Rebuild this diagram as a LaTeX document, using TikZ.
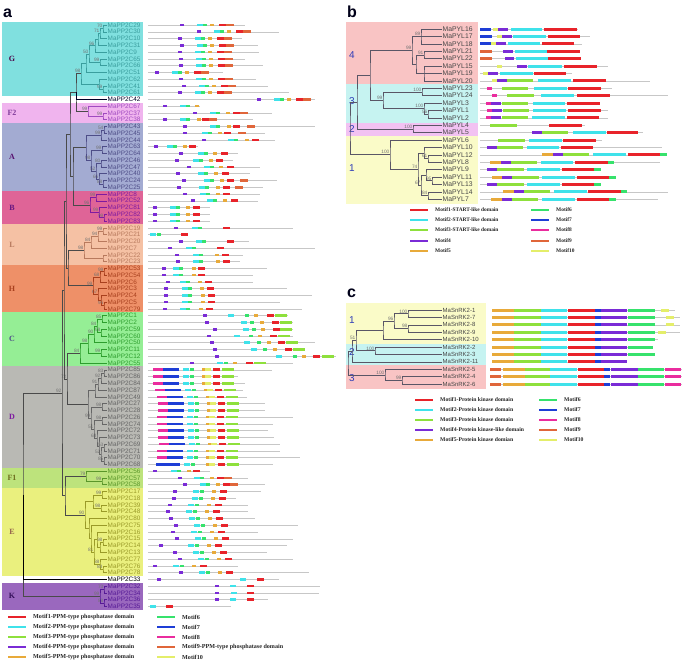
\documentclass[tikz,border=0pt]{standalone}
\usepackage{fontspec}
\setmainfont{Liberation Sans}
\newfontfamily\legfont{Liberation Serif}
\usetikzlibrary{calc}

% motif colours
\definecolor{m1}{HTML}{E8232A}
\definecolor{m2}{HTML}{3FE2EA}
\definecolor{m3}{HTML}{8EE03C}
\definecolor{m4}{HTML}{7A2BD6}
\definecolor{m5}{HTML}{E8AA3A}
\definecolor{m6}{HTML}{36E26C}
\definecolor{m7}{HTML}{1E3ED6}
\definecolor{m8}{HTML}{EA2C9E}
\definecolor{m9}{HTML}{E0663A}
\definecolor{m10}{HTML}{E4EE6A}
% clade bands
\definecolor{bG}{HTML}{80E0DF}
\definecolor{bFt}{HTML}{F0B4EE}
\definecolor{bA}{HTML}{A3ABD2}
\definecolor{bB}{HTML}{DF6497}
\definecolor{bL}{HTML}{F5C1A4}
\definecolor{bH}{HTML}{EE9068}
\definecolor{bC}{HTML}{95EE95}
\definecolor{bD}{HTML}{B9B9B4}
\definecolor{bFo}{HTML}{BDE37C}
\definecolor{bE}{HTML}{EAF07E}
\definecolor{bK}{HTML}{9A68BE}
\definecolor{bpink}{HTML}{F9C4C4}
\definecolor{bcyan}{HTML}{C6F3F1}
\definecolor{blilac}{HTML}{F2C2F2}
\definecolor{byellow}{HTML}{FAFBC8}
% clade text / branch colours
\definecolor{cG}{HTML}{3A9E9E}
\definecolor{cFt}{HTML}{A04AC0}
\definecolor{cA}{HTML}{4E4E88}
\definecolor{cB}{HTML}{7E1AA0}
\definecolor{cL}{HTML}{B87A5E}
\definecolor{cH}{HTML}{A8401E}
\definecolor{cC}{HTML}{2E9E2E}
\definecolor{cD}{HTML}{666666}
\definecolor{cFo}{HTML}{5A962A}
\definecolor{cE}{HTML}{9A9A28}
\definecolor{cK}{HTML}{561A96}
\definecolor{cbk}{HTML}{4A4A4A}
\definecolor{ctree}{HTML}{5A5666}
\definecolor{cnum}{HTML}{2E3CB8}

\pgfkeys{/mw/1/.initial=7,/mw/2/.initial=6,/mw/3/.initial=12,/mw/4/.initial=4,
  /mw/5/.initial=4,/mw/6/.initial=4,/mw/7/.initial=16,/mw/8/.initial=10,
  /mw/9/.initial=8,/mw/10/.initial=6}

\tikzset{
  br/.style={line width=0.5pt},
  rowline/.style={draw=black!22,line width=0.5pt},
  leafa/.style={anchor=west,inner sep=0.5pt,font=\fontsize{6.4}{7}\selectfont},
  leafb/.style={anchor=west,inner sep=0.5pt,text=black!72,font=\fontsize{6.8}{7}\selectfont},
  leafc/.style={leafb,font=\fontsize{6}{7}\selectfont},
  bs/.style={anchor=south east,inner sep=0.4pt,text=black!55,font=\fontsize{4.8}{5}\selectfont},
  cladea/.style={font=\legfont\bfseries\fontsize{8}{8}\selectfont},
  cladeb/.style={text=cnum,font=\fontsize{10}{10}\selectfont},
  panlab/.style={anchor=base west,inner sep=0,text=black!90!blue,font=\bfseries\fontsize{16}{16}\selectfont},
  legtext/.style={anchor=west,inner sep=0,text=black!85},
}

% join two children at x, with a bootstrap value
\newcommand\jn[6][ctree]{%
  \path ($(#4)!0.5!(#5)$) coordinate (#2m);
  \coordinate (#2) at (#3,0 |- #2m);
  \draw[br,#1] (#4) -| (#2) |- (#5);
  \node[bs] (#2b) at (#2) {#6};
}
\newcommand\tw[3][ctree]{\draw[br,#1] (#2) |- (#3);}

% panel a motif rows
\newcommand\arow[3]{%
  \pgfmathsetmacro\ya{25+#1*6.76}
  \draw[rowline] (148,\ya) -- (#2,\ya);
  \foreach \mx/\mm in {#3}
    \fill[m\mm] (\mx,\ya-1.3) rectangle ++(\pgfkeysvalueof{/mw/\mm},2.6);
}
\newcommand\gpat[3]{\arow{#1}{#3}{#2/4,#2+17/2,#2+23/6,#2+30/5,#2+39/1,#2+46/9}}
\newcommand\dpat[3]{\arow{#1}{#3}{#2/8,#2+10/7,#2+30/2,#2+37/6,#2+49/5,#2+52/10,#2+60/1,#2+69/3}}
\newcommand\epat[3]{\arow{#1}{#3}{#2/4,#2+20/2,#2+27/6,#2+39/5,#2+47/1}}
% panel b and c motif rows
\newcommand\mrow[4]{%
  \draw[rowline] (#2,#1) -- (#3,#1);
  \foreach \xa/\xb/\mm in {#4} \fill[m\mm] (\xa,#1-1.5) rectangle (\xb,#1+1.5);
}
\newcommand\brow[3]{\pgfmathsetmacro\yb{29+#1*7.4}\mrow{\yb}{480}{#2}{#3}}
\newcommand\crow[3]{\pgfmathsetmacro\yb{310+#1*7.4}\mrow{\yb}{492}{#2}{#3}}

\newcommand\aleaves[3]{%
  \foreach \n [count=\i from #1] in {#3}
    \node[leafa,text=#2] (a\n) at (107,{25+\i*6.76}) {MaPP2C\n};
}
\newcommand\aband[6]{%
  \fill[#3] (2,{25+(#1-0.5)*6.76}) rectangle (143,{25+(#2+0.5)*6.76});
  \node[cladea,text=#4] (#6) at (12,{25+(#1+#2)*3.38}) {#5};
}
\newcommand\leg[6]{%
  \draw[m#4,line width=2.2pt] (#2,#3) -- ++(18,0);
  \node[legtext,font=\legfont\bfseries\fontsize{#5}{7}\selectfont] (#1) at (#2+25,#3) {#6};
}

\begin{document}
\begin{tikzpicture}[x=1pt,y=-1pt]
\fill[white] (0,0) rectangle (685,662);
\useasboundingbox (0,0) rectangle (685,662);

%% ---------------- panel a ----------------
\node[panlab] (pa) at (3,17) {a};
\aband{0}{10}{bG}{black!60!blue!70!red}{G}{labG}
\aband{12}{14}{bFt}{cFt!80!black}{F2}{labFt}
\aband{15}{24}{bA}{cB!70!black}{A}{labA}
\aband{25}{29}{bB}{cB!80!black}{B}{labB}
\aband{30}{35}{bL}{cL}{L}{labL}
\aband{36}{42}{bH}{cH}{H}{labH}
\aband{43}{50}{bC}{cA}{C}{labC}
\aband{51}{65}{bD}{cB}{D}{labD}
\aband{66}{68}{bFo}{cE!70!black}{F1}{labFo}
\aband{69}{81}{bE}{cL!80!black}{E}{labE}
\aband{83}{86}{bK}{cK!60!black}{K}{labK}

\aleaves{0}{cG}{29,30,10,31,9,65,66,51,62,41,61}
\aleaves{11}{black!85!blue}{42}
\aleaves{12}{cFt}{67,37,38}
\aleaves{15}{cA}{43,45,44,63,64,46,47,40,24,25}
\aleaves{25}{cB}{8,52,81,82,83}
\aleaves{30}{cL}{19,21,20,7,22,23}
\aleaves{36}{cH}{53,54,6,3,4,5,79}
\aleaves{43}{cC}{1,2,59,60,50,11,12,55}
\aleaves{51}{cD}{85,86,84,87,49,27,28,26,74,72,73,69,71,70,68}
\aleaves{66}{cFo}{56,57,58}
\aleaves{69}{cE}{17,18,39,48,80,75,16,15,14,13,77,76,78}
\aleaves{82}{black}{33}
\aleaves{83}{cK}{32,34,36,35}

% G
\jn[cG]{g1}{103}{a29}{a30}{70}
\jn[cG]{g2}{100}{g1}{a10}{71}
\jn[cG]{g3}{98}{g2}{a31}{}
\jn[cG]{g4}{95}{g3}{a9}{96}
\jn[cG]{g5}{100}{a65}{a66}{99}
\jn[cG]{g6}{89}{g4}{g5}{50}
\jn[cG]{g7}{86}{g6}{a51}{}
\jn[cG]{g8}{103}{a41}{a61}{99}
\jn[cG]{g9}{99}{a62}{g8}{}
\jn[cG]{g10}{81}{g7}{g9}{98}
% F2
\jn[cFt]{ft1}{103}{a37}{a38}{99}
\jn[cFt]{ft2}{88}{a67}{ft1}{99}
\jn[cbk]{gf}{76}{g10}{ft2}{}
\tw[black!85!blue]{gf}{a42}
% A
\jn[cA]{aa1}{104}{a43}{a45}{54}
\jn[cA]{aa2}{101}{aa1}{a44}{99}
\jn[cA]{aa3}{102}{a63}{a64}{99}
\jn[cA]{aa4}{101}{a46}{a47}{80}
\jn[cA]{aa5}{103}{a24}{a25}{88}
\jn[cA]{aa6}{99}{a40}{aa5}{66}
\jn[cA]{aa7}{96}{aa4}{aa6}{52}
\jn[cA]{aa8}{91}{aa3}{aa7}{98}
\jn[cA]{aa9}{86}{aa2}{aa8}{}
% B
\jn[cB]{bb1}{96}{a8}{a52}{99}
\jn[cB]{bb2}{104}{a82}{a83}{99}
\jn[cB]{bb3}{99}{a81}{bb2}{99}
\jn[cB]{bb4}{90}{bb1}{bb3}{96}
\jn[cbk]{ab}{73}{aa9}{bb4}{}
\jn[cbk]{gfab}{70}{gf}{ab}{}
% L
\jn[cL]{ll1}{103}{a19}{a21}{99}
\jn[cL]{ll2}{98}{ll1}{a20}{94}
\jn[cL]{ll3}{91}{ll2}{a7}{84}
\jn[cL]{ll4}{103}{a22}{a23}{}
\jn[cL]{ll5}{84}{ll3}{ll4}{98}
% H
\jn[cH]{hh1}{104}{a53}{a54}{99}
\jn[cH]{hh2}{100}{hh1}{a6}{68}
\jn[cH]{hh3}{104}{a5}{a79}{96}
\jn[cH]{hh4}{101}{a4}{hh3}{}
\jn[cH]{hh5}{98}{a3}{hh4}{67}
\jn[cH]{hh6}{93}{hh2}{hh5}{99}
\jn[cbk]{lh}{68}{ll5}{hh6}{}
% C
\jn[cC]{cc1}{102}{a1}{a2}{85}
\jn[cC]{cc2}{101}{a59}{a60}{98}
\jn[cC]{cc3}{97}{cc1}{cc2}{84}
\jn[cC]{cc4}{94}{cc3}{a50}{90}
\jn[cC]{cc5}{101}{a11}{a12}{99}
\jn[cC]{cc6}{88}{cc4}{cc5}{98}
\jn[cC]{cc7}{80}{cc6}{a55}{84}
% D
\jn[cD]{dd1}{104}{a85}{a86}{83}
\jn[cD]{dd2}{101}{dd1}{a84}{92}
\jn[cD]{dd3}{98}{dd2}{a87}{91}
\jn[cD]{dd4}{95}{dd3}{a49}{}
\jn[cD]{dd5}{102}{a27}{a28}{98}
\jn[cD]{dd6}{102}{a26}{a74}{98}
\jn[cD]{dd7}{104}{a69}{a71}{53}
\jn[cD]{dd8}{104}{a70}{a68}{85}
\jn[cD]{dd9}{101}{dd7}{dd8}{52}
\jn[cD]{dd10}{99}{a73}{dd9}{}
\jn[cD]{dd11}{97}{a72}{dd10}{63}
\jn[cD]{dd12}{94}{dd6}{dd11}{51}
\jn[cD]{dd13}{91}{dd5}{dd12}{99}
\jn[cD]{dd14}{88}{dd4}{dd13}{}
\jn[cbk]{cd}{67}{cc7}{dd14}{72}
\jn[cbk]{glh}{66}{gfab}{lh}{}
\jn[cbk]{upper}{64}{glh}{cd}{}
% F1 and E
\jn[cFo]{ff1}{102}{a57}{a58}{99}
\jn[cFo]{ff2}{86}{a56}{ff1}{79}
\jn[cE]{ee1}{102}{a17}{a18}{99}
\jn[cE]{ee2}{101}{a39}{a48}{98}
\jn[cE]{ee3}{93}{ee1}{ee2}{}
\jn[cE]{ee4}{103}{a15}{a14}{98}
\jn[cE]{ee5}{100}{ee4}{a13}{}
\jn[cE]{ee6}{97}{a16}{ee5}{}
\jn[cE]{ee7}{103}{a76}{a78}{88}
\jn[cE]{ee8}{100}{a77}{ee7}{88}
\jn[cE]{ee9}{94}{ee6}{ee8}{81}
\jn[cE]{ee10}{91}{a75}{ee9}{}
\jn[cE]{ee11}{89}{a80}{ee10}{}
\jn[cE]{ee12}{85}{ee3}{ee11}{90}
\jn[cbk]{fe}{65}{ff2}{ee12}{}
\jn[cbk]{nn}{62}{upper}{fe}{92}
% K
\jn[cK]{kk1}{104}{a32}{a34}{73}
\jn[cK]{kk2}{104}{a36}{a35}{88}
\jn[cK]{kk3}{100}{kk1}{kk2}{99}
\jn[cbk]{root}{23}{nn}{kk3}{}
\draw[line width=0.9pt] (root) |- (a33);

% motifs, panel a
\gpat{0}{180}{245}
\gpat{1}{197}{279}
\gpat{2}{178}{242}
\gpat{3}{180}{258}
\gpat{4}{178}{259}
\gpat{5}{179}{245}
\gpat{6}{179}{263}
\gpat{7}{155}{223}
\gpat{8}{179}{256}
\gpat{9}{182}{268}
\gpat{10}{178}{289}
\gpat{11}{257}{315}
\arow{12}{200}{163/4,180/2,186/6,195/5}
\arow{13}{272}{193/4,210/2,216/6,226/5,233/1,240/9}
\arow{14}{253}{163/4,180/2,186/6,197/5,202/1,209/9}
\arow{15}{315}{183/4,210/2,216/6,227/5,233/1,247/9}
\arow{16}{265}{183/4,202/2,208/6,218/5,224/1,238/9}
\arow{17}{275}{202/4,228/2,234/6,245/5,252/1}
\arow{18}{198}{154/4,167/2,173/6,183/5,189/1}
\arow{19}{238}{179/4,198/2,204/6,213/5,221/1}
\arow{20}{233}{175/4,193/2,199/6,209/5,216/1}
\arow{21}{260}{187/4,204/2,210/6,219/5,227/1}
\arow{22}{250}{176/4,198/2,204/6,214/5,222/1}
\arow{23}{277}{182/4,204/2,210/6,220/5,227/1,240/9}
\arow{24}{263}{177/4,199/2,205/6,216/5,223/1,235/9}
\arow{25}{260}{183/4,200/2,206/6,216/5,223/1}
\arow{26}{258}{191/4,207/2,213/6,223/5,231/1}
\foreach \r in {27,28,29} {\arow{\r}{210}{153/4,170/2,176/6,186/5,193/1}}
\arow{30}{293}{174/4,192/2,198/6,223/1}
\arow{31}{187}{150/2,157/6,181/1}
\arow{32}{249}{179/4,196/2,202/6,227/1}
\arow{33}{315}{168/4,186/2,192/6,217/1}
\arow{34}{243}{175/4,193/2,199/6,215/5,222/1}
\arow{35}{240}{176/4,193/2,199/6,216/5,223/1}
\arow{36}{267}{162/4,173/2,179/6,192/5,198/1}
\arow{37}{253}{162/4,173/2,179/6,192/5,198/1}
\arow{38}{253}{166/4,180/2,186/6,198/5,205/1}
\arow{39}{287}{164/4,182/2,188/6,200/5,207/1}
\arow{40}{312}{164/4,182/2,188/6,201/5,208/1}
\arow{41}{280}{164/4,182/2,188/6,201/5,208/1}
\arow{42}{302}{163/4,180/2,186/6,199/5,206/1}
\arow{43}{288}{203/4,228/2,245/6,254/5,267/1,275/3}
\arow{44}{293}{205/4,241/2,250/6,260/5,272/1,280/3}
\arow{45}{293}{213/4,243/2,252/6,261/5,273/1,280/3}
\arow{46}{293}{207/4,234/2,249/6,258/5,270/1,278/3}
\arow{47}{315}{210/4,244/2,257/6,267/5,278/1,286/3}
\arow{48}{305}{213/4,251/2,263/6,273/5,285/1,293/3}
\arow{49}{336}{215/4,276/2,293/6,302/5,313/1,322/3}
\arow{50}{293}{190/4,217/2,224/6,233/5,246/1,254/3}
\dpat{51}{153}{272}
\dpat{52}{153}{238}
\dpat{53}{153}{245}
\dpat{54}{155}{243}
\dpat{55}{157}{247}
\dpat{56}{158}{265}
\dpat{57}{158}{265}
\dpat{58}{157}{293}
\dpat{59}{157}{273}
\dpat{60}{158}{268}
\dpat{61}{158}{274}
\dpat{62}{159}{280}
\dpat{63}{157}{280}
\dpat{64}{157}{300}
\arow{65}{273}{156/7,164/7,184/2,191/6,206/5,209/10,218/1,227/3}
\arow{66}{210}{153/4,171/2,177/6,187/5,193/1}
\arow{67}{248}{178/4,194/2,200/6,210/5,217/1,224/9}
\arow{68}{265}{183/4,200/2,206/6,216/5,223/1,230/9}
\epat{69}{173}{261}
\epat{70}{172}{236}
\epat{71}{168}{248}
\epat{72}{166}{248}
\epat{73}{169}{255}
\epat{74}{174}{298}
\epat{75}{171}{258}
\epat{76}{175}{293}
\arow{77}{287}{159/4,188/2,195/6,207/5,215/1}
\epat{78}{173}{267}
\epat{79}{178}{293}
\epat{80}{153}{238}
\epat{81}{179}{309}
\arow{82}{279}{157/4,240/2,257/1}
\arow{83}{320}{215/4,230/2,247/1}
\arow{84}{319}{215/4,231/2,247/1}
\arow{85}{268}{215/4,230/2,247/1}
\arow{86}{231}{150/2,166/1}

% legend a
\leg{la1}{8}{617}{1}{6.1}{Motif1-PPM-type phosphatase domain}
\leg{la2}{8}{627}{2}{6.1}{Motif2-PPM-type phosphatase domain}
\leg{la3}{8}{637}{3}{6.1}{Motif3-PPM-type phosphatase domain}
\leg{la4}{8}{647}{4}{6.1}{Motif4-PPM-type phosphatase domain}
\leg{la5}{8}{657}{5}{6.1}{Motif5-PPM-type phosphatase domain}
\leg{la6}{157}{617}{6}{6.1}{Motif6}
\leg{la7}{157}{627}{7}{6.1}{Motif7}
\leg{la8}{157}{637}{8}{6.1}{Motif8}
\leg{la9}{157}{647}{9}{6.1}{Motif9-PPM-type phosphatase domain}
\leg{la10}{157}{657}{10}{6.1}{Motif10}

%% ---------------- panel b ----------------
\node[panlab] (pb) at (347,17) {b};
\fill[bpink] (346,22) rectangle (478,84);
\fill[bcyan] (346,84) rectangle (478,123);
\fill[blilac] (346,123) rectangle (478,136);
\fill[byellow] (346,136) rectangle (478,204);
\node[cladeb] (nb4) at (352,55) {4};
\node[cladeb] (nb3) at (352,101) {3};
\node[cladeb] (nb2) at (352,129) {2};
\node[cladeb] (nb1) at (352,168) {1};
\foreach \n [count=\i from 0] in {16,17,18,21,22,15,19,20,23,24,3,1,2,4,5,6,10,12,8,9,11,13,14,7}
  \node[leafb] (pyl\n) at (442,{29+\i*7.4}) {MaPYL\n};

\jn{pb1}{421}{pyl16}{pyl18}{89}
\tw{pb1}{pyl17}
\jn{pb2}{424}{pyl21}{pyl22}{91}
\jn{pb3}{424}{pyl15}{pyl20}{}
\tw{pb3}{pyl19}
\jn{pb4}{416}{pb2}{pb3}{}
\jn{pb5}{412}{pb1}{pb4}{99}
\jn{pb6}{422}{pyl23}{pyl24}{100}
\jn{pb7}{428}{pyl1}{pyl2}{56}
\jn{pb8}{424}{pyl3}{pb7}{100}
\jn{pb9}{383}{pb6}{pb8}{99}
\jn{pb10}{370}{pb5}{pb9}{}
\jn{pb11}{413}{pyl4}{pyl5}{100}
\jn{pb12}{357}{pb10}{pb11}{}
\jn{pc1}{428}{pyl12}{pyl8}{61}
\jn{pc2}{424}{pyl10}{pc1}{}
\jn{pc3}{432}{pyl11}{pyl13}{95}
\jn{pc4}{426}{pyl9}{pc3}{}
\jn{pc5}{428}{pyl14}{pyl7}{84}
\jn{pc6}{421}{pc4}{pc5}{67}
\jn{pc7}{418}{pc2}{pc6}{74}
\jn{pc8}{390}{pyl6}{pc7}{100}
\jn{pbroot}{350}{pb12}{pc8}{}

\brow{0}{578}{480/491/7,493/498/10,498/508/4,511/542/2,544/577/1}
\brow{1}{590}{480/492/7,497/502/10,502/512/4,513/546/2,548/580/1}
\brow{2}{582}{480/491/7,491/496/10,496/506/4,508/540/2,542/574/1}
\brow{3}{580}{480/492/9,503/513/4,515/547/2,547/580/1}
\brow{4}{581}{480/492/9,505/514/4,516/548/2,548/581/1}
\brow{5}{608}{497/502/10,517/527/4,528/562/2,564/597/1}
\brow{6}{572}{483/488/10,488/498/4,500/533/2,534/566/1}
\brow{7}{650}{492/497/10,497/507/4,507/533/3,538/571/2,573/606/1}
\brow{8}{612}{487/492/8,502/528/3,534/567/2,568/601/1}
\brow{9}{668}{492/497/8,507/534/3,541/574/2,577/610/1}
\brow{10}{600}{486/491/8,491/501/4,502/528/3,533/565/2,567/600/1}
\brow{11}{608}{487/492/8,492/502/4,503/529/3,533/566/2,568/601/1}
\brow{12}{608}{486/491/8,491/501/4,502/528/3,532/565/2,567/599/1}
\brow{13}{585}{490/517/3,549/582/1}
\brow{14}{643}{532/542/4,542/568/3,573/606/2,607/638/1}
\brow{15}{602}{498/525/3,529/562/2,563/596/1}
\brow{16}{662}{487/497/4,497/523/3,527/559/2,561/593/1}
\brow{17}{667}{542/553/5,553/563/4,563/589/3,593/626/2,628/660/1,660/667/6}
\brow{18}{660}{490/501/5,501/511/4,511/537/3,541/573/2,575/608/1,608/614/6}
\brow{19}{601}{487/497/4,497/524/3,527/560/2,562/594/1,594/601/6}
\brow{20}{616}{492/502/5,502/512/4,512/539/3,542/575/2,577/609/1,609/616/6}
\brow{21}{601}{487/497/4,497/524/3,527/560/2,562/594/1,594/601/6}
\brow{22}{668}{503/514/5,514/524/4,524/550/3,554/587/2,588/621/1,621/627/6}
\brow{23}{658}{491/502/5,502/512/4,512/538/3,542/575/2,577/609/1,609/616/6}

% legend b
\leg{lb1}{410}{210}{1}{5.4}{Motif1-START-like domain}
\leg{lb2}{410}{220}{2}{5.4}{Motif2-START-like domain}
\leg{lb3}{410}{230}{3}{5.4}{Motif3-START-like domain}
\leg{lb4}{410}{241}{4}{5.4}{Motif4}
\leg{lb5}{410}{251}{5}{5.4}{Motif5}
\leg{lb6}{531}{210}{6}{5.4}{Motif6}
\leg{lb7}{531}{220}{7}{5.4}{Motif7}
\leg{lb8}{531}{230}{8}{5.4}{Motif8}
\leg{lb9}{531}{241}{9}{5.4}{Motif9}
\leg{lb10}{531}{251}{10}{5.4}{Motif10}

%% ---------------- panel c ----------------
\node[panlab] (pcl) at (347,297) {c};
\fill[byellow] (346,303) rectangle (486,344);
\fill[bcyan] (346,344) rectangle (486,365);
\fill[bpink] (346,365) rectangle (486,389);
\node[cladeb] (nc1) at (352,320) {1};
\node[cladeb] (nc2) at (352,352) {2};
\node[cladeb] (nc3) at (352,378) {3};
\foreach \n [count=\i from 0] in {1,7,8,9,10,2,3,11,5,4,6}
  \node[leafc] (sn\n) at (442,{310+\i*7.4}) {MaSnRK2-\n};

\jn{sc1}{408}{sn1}{sn7}{100}
\jn{sc2}{408}{sn8}{sn9}{98}
\jn{sc3}{394}{sc1}{sc2}{96}
\jn{sc4}{383}{sc3}{sn10}{}
\jn{sc5}{375}{sn2}{sn3}{100}
\jn{sc6}{356}{sc4}{sc5}{51}
\jn{sc7}{352}{sc6}{sn11}{}
\jn{sc8}{402}{sn4}{sn6}{99}
\jn{sc9}{385}{sn5}{sc8}{100}
\jn{scroot}{348}{sc7}{sc9}{}

\crow{0}{675}{492/514/5,514/541/3,541/567/2,568/595/1,595/601/7,601/627/4,628/655/6,661/669/10}
\crow{1}{680}{492/514/5,514/541/3,541/567/2,568/595/1,595/601/7,601/627/4,628/655/6,666/674/10}
\crow{2}{680}{492/514/5,514/541/3,541/567/2,568/595/1,595/601/7,601/627/4,628/655/6,666/674/10}
\crow{3}{680}{492/514/5,514/541/3,541/567/2,568/595/1,595/601/7,601/627/4,628/655/6,658/666/10}
\crow{4}{658}{492/514/5,514/541/3,541/567/2,568/595/1,595/601/7,601/627/4,628/655/6}
\crow{5}{653}{492/514/5,514/541/3,541/567/2,568/595/1,595/601/7,601/627/4,628/653/6}
\crow{6}{655}{492/514/5,514/541/3,541/567/2,568/595/1,595/601/7,601/627/4,628/655/6}
\crow{7}{627}{492/514/5,514/541/3,541/567/2,568/595/1,595/601/7,601/627/4}
\foreach \r in {8,9,10} {\crow{\r}{682}{490/501/9,503/525/5,525/550/3,550/577/2,578/604/1,604/610/7,611/638/4,638/664/6,665/681/8}}

% legend c
\leg{lc1}{415}{400}{1}{5.7}{Motif1-Protein kinase domain}
\leg{lc2}{415}{410}{2}{5.7}{Motif2-Protein kinase domain}
\leg{lc3}{415}{420}{3}{5.7}{Motif3-Protein kinase domain}
\leg{lc4}{415}{430}{4}{5.7}{Motif4-Protein kinase-like domain}
\leg{lc5}{415}{440}{5}{5.7}{Motif5-Protein kinase domian}
\leg{lc6}{539}{400}{6}{5.7}{Motif6}
\leg{lc7}{539}{410}{7}{5.7}{Motif7}
\leg{lc8}{539}{420}{8}{5.7}{Motif8}
\leg{lc9}{539}{430}{9}{5.7}{Motif9}
\leg{lc10}{539}{440}{10}{5.7}{Motif10}
\end{tikzpicture}
\end{document}
